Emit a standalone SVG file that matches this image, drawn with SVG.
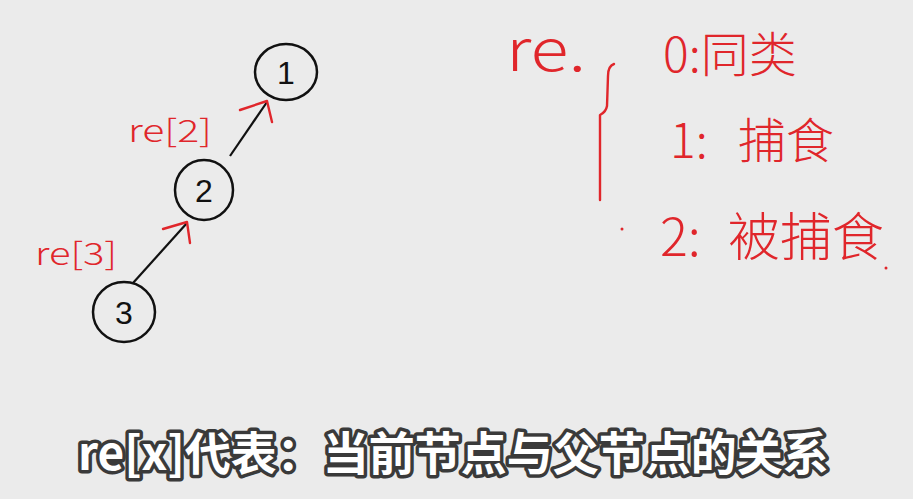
<svg xmlns="http://www.w3.org/2000/svg" width="913" height="499" viewBox="0 0 913 499">
<style>
.node ellipse{fill:none;stroke:#111;stroke-width:2.5}
.node text{font-family:"Liberation Sans","DejaVu Sans",sans-serif;font-size:32px;fill:#111;text-anchor:middle}
.edge{stroke:#111;stroke-width:2.2;fill:none}
.arrow{stroke:#e0262b;stroke-width:2.4;fill:none;stroke-linecap:round;stroke-linejoin:round}
.red{font-family:"Noto Sans CJK SC","DejaVu Sans",sans-serif;fill:#e0262b;font-weight:300}
.sub{font-family:"Noto Sans CJK SC","Noto Sans",sans-serif;font-size:46px;font-weight:700;fill:#fff;stroke:#3a3a3a;stroke-width:7;paint-order:stroke;stroke-linejoin:round}
</style>
<rect width="913" height="499" fill="#ebebeb"/>
<g id="connectors">
<path class="edge" d="M230 156 L267 102"/>
<path class="arrow" d="M240 110 L267 101 L272 122"/>
<path class="edge" d="M133 283 L187 223"/>
<path class="arrow" d="M163 229 L187 222 L190 243"/>
</g>
<g id="node-1" class="node"><ellipse cx="286" cy="72" rx="31" ry="28"/><text x="286" y="84">1</text></g>
<g id="node-2" class="node"><ellipse cx="204" cy="190" rx="29" ry="30"/><text x="204" y="202">2</text></g>
<g id="node-3" class="node"><ellipse cx="124" cy="312" rx="31" ry="30"/><text x="124" y="324">3</text></g>
<text class="red" x="128" y="142" font-size="31" textLength="84" lengthAdjust="spacingAndGlyphs">re[2]</text>
<text class="red" x="35" y="265" font-size="31" textLength="82" lengthAdjust="spacingAndGlyphs">re[3]</text>
<g id="legend">
<text class="red" x="506" y="71" font-size="58" textLength="80" lengthAdjust="spacingAndGlyphs">re.</text>
<path class="arrow" d="M614 64 Q608 66 608 76 L607 106 Q606 112 600 115 L600 200"/>
<circle cx="622" cy="229" r="1.5" fill="#e0262b"/>
<text class="red" x="663" y="72" font-size="48">0:同类</text>
<text class="red" x="670" y="158" font-size="48">1:<tspan x="738">捕食</tspan></text>
<text class="red" x="660" y="256" font-size="52">2:<tspan x="728">被捕食</tspan></text>
<circle cx="886" cy="268" r="1.5" fill="#e0262b"/>
</g>
<text class="sub" x="78" y="470">re[x]代表：当前节点与父节点的关系</text>
</svg>
